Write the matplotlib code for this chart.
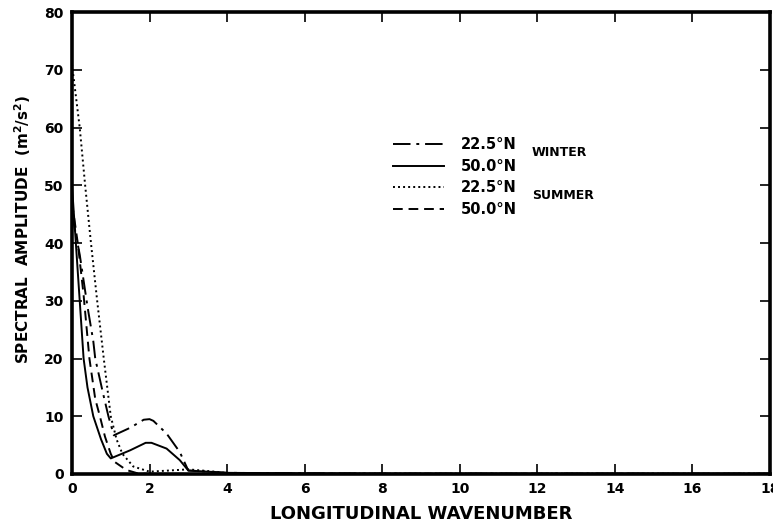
import matplotlib
matplotlib.use("Agg")
import matplotlib.pyplot as plt

# wavenumber / amplitude
x_w22 = [0, 0.2, 0.4, 0.55, 0.6, 0.8, 0.94, 1.08, 1.5, 1.85, 2.0, 2.1, 2.44, 2.78, 3.0, 4, 6, 8, 10, 12, 14, 16, 18]
y_w22 = [45, 38, 29, 23, 20, 14, 10, 6.7, 8.0, 9.4, 9.5, 9.2, 7.0, 3.8, 0.6, 0.2, 0.1, 0.05, 0.05, 0.05, 0.05, 0.05, 0.05]

x_w50 = [0, 0.1, 0.2, 0.3, 0.4, 0.55, 0.75, 0.9, 1.0, 1.5, 1.9, 2.05, 2.44, 2.78, 3.0, 4, 6, 8, 10, 12, 14, 16, 18]
y_w50 = [50, 40, 30, 20, 15, 10, 6, 3.5, 2.7, 4.1, 5.4, 5.4, 4.4, 2.4, 0.6, 0.2, 0.1, 0.05, 0.05, 0.05, 0.05, 0.05, 0.05]

x_s22 = [0, 0.2, 0.34, 0.49, 0.65, 0.82, 1.0, 1.15, 1.3, 1.58, 2.0, 2.5, 3.0, 3.7, 4.0, 5, 6, 8, 10, 12, 14, 16, 18]
y_s22 = [71, 60, 50, 40, 30, 20, 10, 6, 3.5, 1.3, 0.4, 0.6, 0.8, 0.4, 0.15, 0.05, 0.05, 0.05, 0.05, 0.05, 0.05, 0.05, 0.05]

x_s50 = [0, 0.15, 0.3, 0.45, 0.6, 0.72, 0.85, 1.0, 1.1, 1.4, 1.7, 2, 4, 6, 8, 10, 12, 14, 16, 18]
y_s50 = [47, 40, 31, 20, 13, 10, 6.5, 3.5, 2.1, 0.7, 0.1, 0.02, 0.02, 0.02, 0.02, 0.02, 0.02, 0.02, 0.02, 0.02]

labels = ["22.5°N", "50.0°N", "22.5°N", "50.0°N"]

plt.rcParams['font.family'] = ['DejaVu Sans']
fig = plt.figure(figsize=(7.73, 5.29), dpi=100)
ax = fig.add_axes([0.0931, 0.104, 0.903, 0.873])

lw = 1.4
l1, = ax.plot(x_w22, y_w22, color='black', lw=lw, dashes=(9, 3, 1.5, 3))
l2, = ax.plot(x_w50, y_w50, color='black', lw=lw)
l3, = ax.plot(x_s22, y_s22, color='black', lw=lw, dashes=(1, 1.6))
l4, = ax.plot(x_s50, y_s50, color='black', lw=lw, dashes=(5, 3))

ax.set_xlim(0, 18)
ax.set_ylim(0, 80)
ax.set_xticks(range(0, 19, 2))
ax.set_yticks(range(0, 81, 10))
ax.tick_params(direction='in', length=7, width=1.2, top=True, right=True,
               labelsize=10, pad=6)
for lab in ax.get_xticklabels() + ax.get_yticklabels():
    lab.set_fontweight('bold')
for s in ax.spines.values():
    s.set_linewidth(2.6)

ax.set_xlabel("LONGITUDINAL WAVENUMBER", fontsize=13, fontweight='bold', labelpad=6)
ax.set_ylabel("SPECTRAL  AMPLITUDE  (m$^\\mathbf{2}$/s$^\\mathbf{2}$)", fontsize=11,
              fontweight='bold')
ax.yaxis.set_label_coords(-0.056, 0.53)

leg = ax.legend([l1, l2, l3, l4], labels, loc='upper left',
                bbox_to_anchor=(0.449, 0.745), frameon=False, handlelength=3.5,
                handletextpad=1.2, labelspacing=0.45, fontsize=10.5, borderpad=0)
for t in leg.get_texts():
    t.set_fontweight('bold')

ax.text(0.659, 0.697, "WINTER", transform=ax.transAxes, fontsize=9,
        fontweight='bold', va='center')
ax.text(0.659, 0.602, "SUMMER", transform=ax.transAxes, fontsize=9,
        fontweight='bold', va='center')

fig.savefig("out.png", dpi=100)
